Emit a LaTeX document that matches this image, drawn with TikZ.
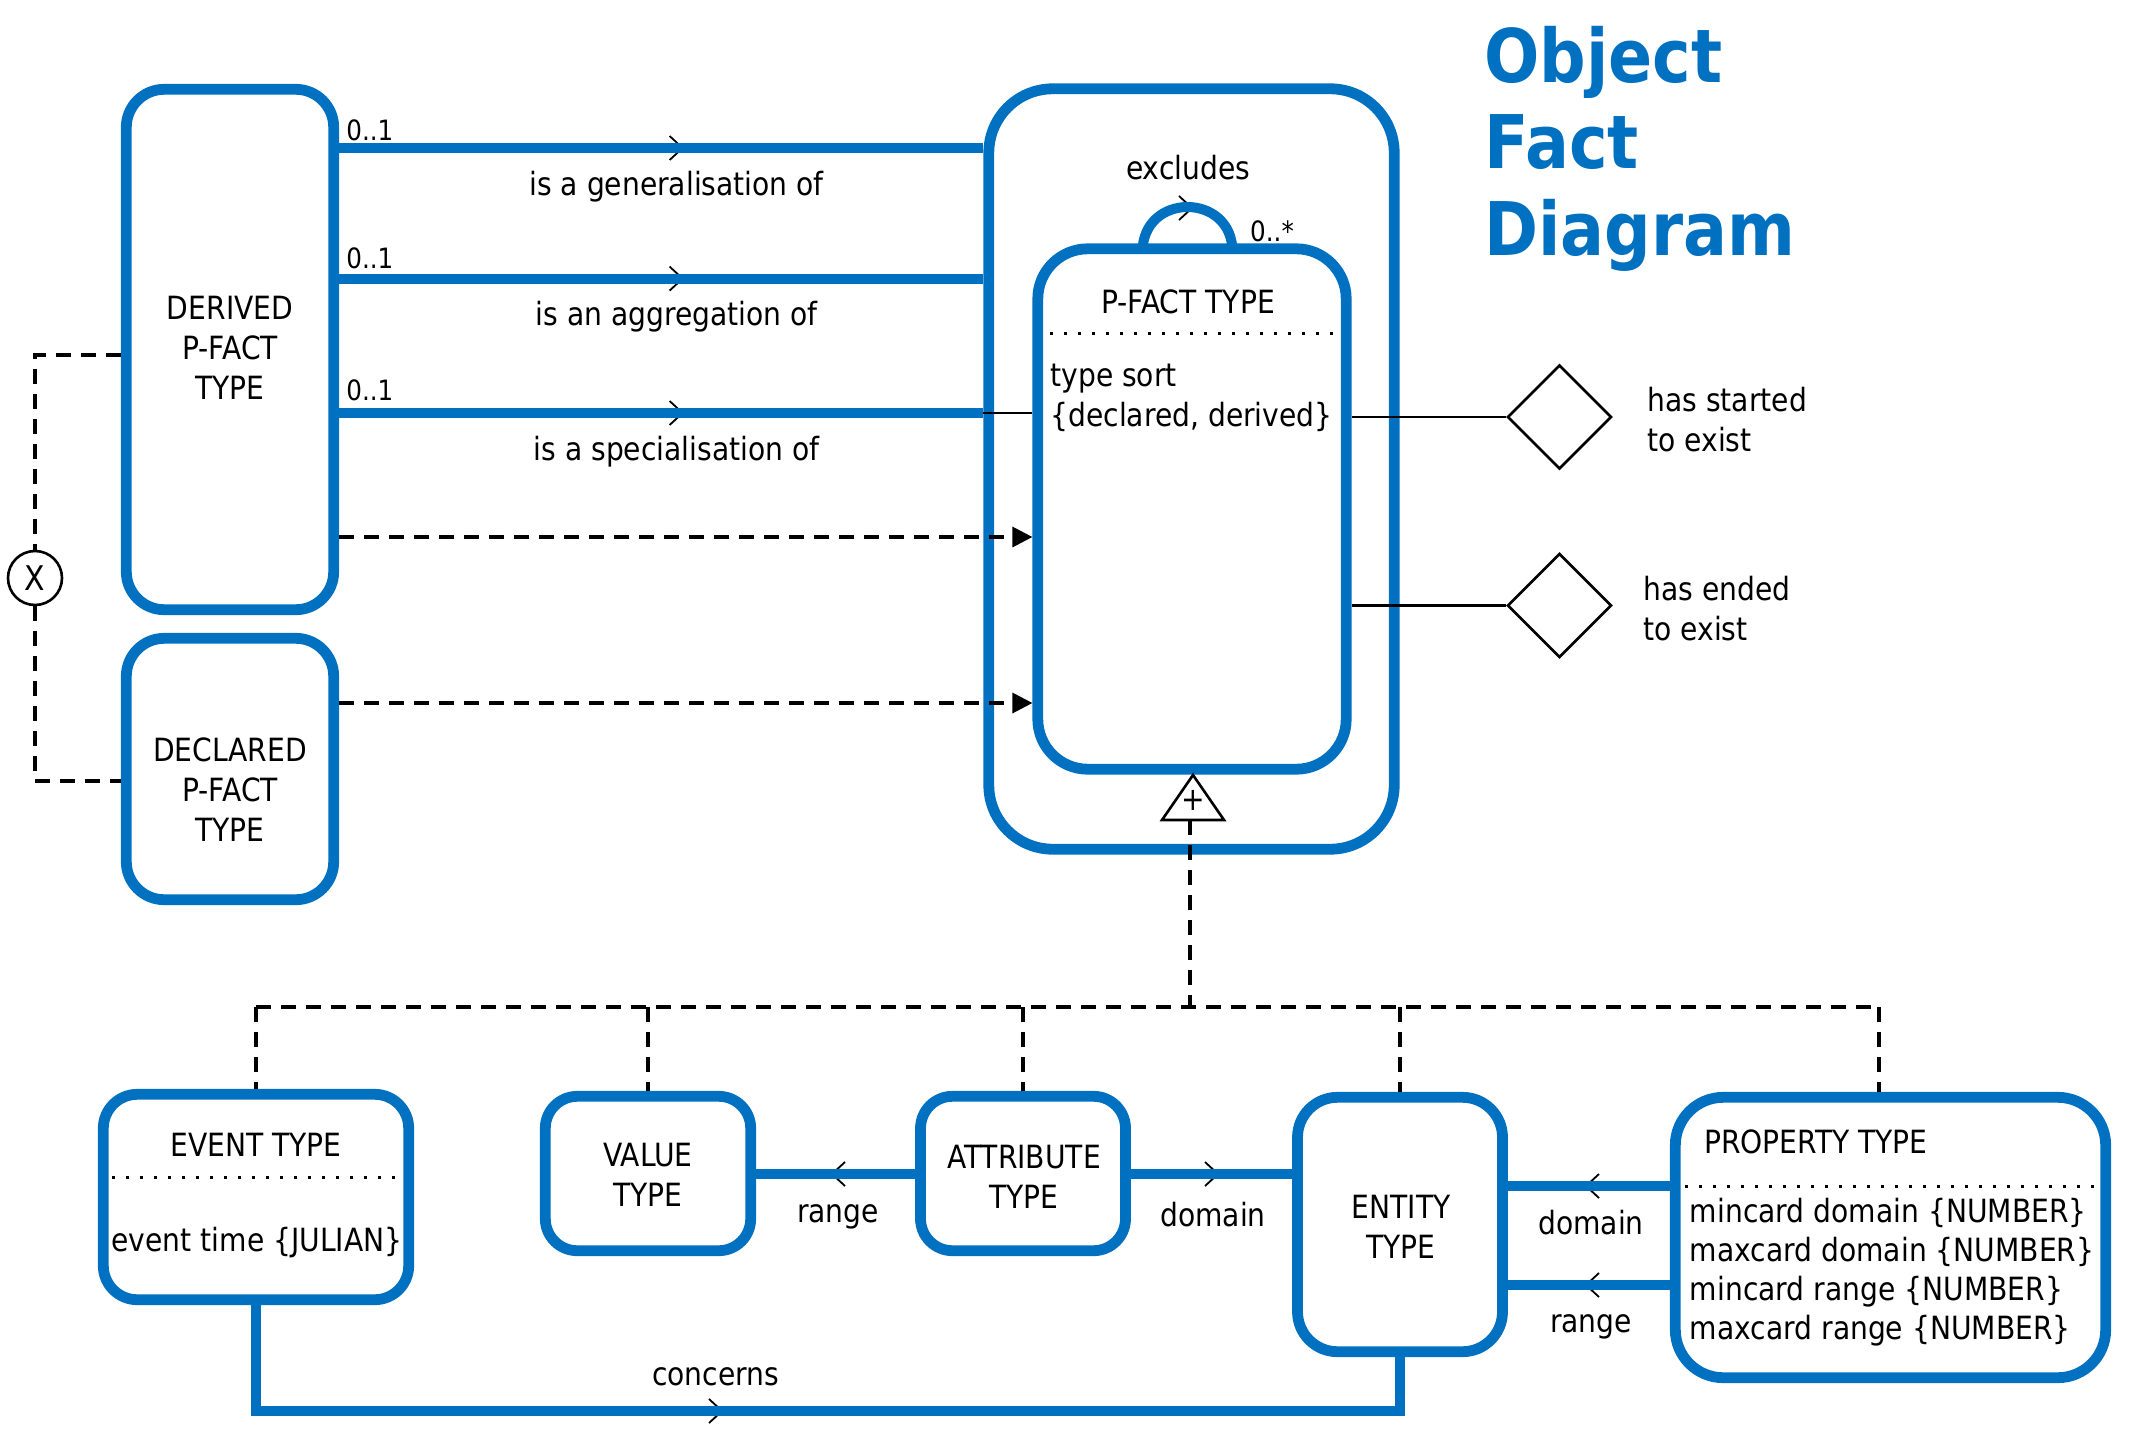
\documentclass[tikz,border=0pt]{standalone}
\usepackage{fontspec}
\setmainfont{DejaVu Sans}[FakeStretch=0.88]
\newfontfamily\titlefont{DejaVu Sans}[FakeStretch=0.88]
\usetikzlibrary{arrows.meta,shapes.geometric}
\definecolor{ofdblue}{RGB}{0,112,192}
\tikzset{
  chev/.pic={\draw[line width=0.9pt,black] (-7,-12) -- (6,0) -- (-7,12);}
}
\begin{document}
\begin{tikzpicture}[x=0.5pt,y=-0.5pt,
  every node/.style={font=\fontsize{16}{20}\selectfont},
  box/.style={draw=ofdblue,line width=5.4pt,inner sep=0pt},
  conn/.style={draw=ofdblue,line width=5pt},
  thinl/.style={draw=black,line width=1.3pt},
  dashline/.style={draw=black,line width=1.6pt,dash pattern=on 7.5pt off 5pt},
  dotline/.style={draw=black,line width=1.5pt,dash pattern=on 1.5pt off 5.5pt},
  txt/.style={inner sep=0pt},
  small/.style={font=\fontsize{14}{16}\selectfont},
  titlef/.style={inner sep=0pt,text=ofdblue,font=\titlefont\bfseries\fontsize{37}{43}\selectfont},
  darrow/.style={dashline,-{Triangle[length=10pt,width=10pt]}}
]
\useasboundingbox (0,0) rectangle (2152,1456);

% ---------- chevrons (drawn first, lines cover their middle) ----------
\pic at (676.6,148) {chev};
\pic at (676.6,278.6) {chev};
\pic at (676.6,413) {chev};
\pic at (1186,208) {chev};
\pic[rotate=180] at (838,1174) {chev};
\pic at (1212,1174) {chev};
\pic[rotate=180] at (1592,1186) {chev};
\pic[rotate=180] at (1592,1285) {chev};
\pic at (716,1411) {chev};

% ---------- boxes ----------
\node[box,rounded corners=19pt,minimum width=103.7pt,minimum height=260.2pt] (derived) at (230,349.5) {};
\node[box,rounded corners=19pt,minimum width=103.7pt,minimum height=130.7pt] (declared) at (230,769) {};
\node[box,rounded corners=32pt,minimum width=202.7pt,minimum height=380.2pt] (outer) at (1191.5,469) {};
\node[box,rounded corners=25pt,minimum width=154.2pt,minimum height=260.2pt] (pfact) at (1192,509) {};
\node[box,rounded corners=17pt,minimum width=152.7pt,minimum height=102.7pt] (event) at (256,1197) {};
\node[box,rounded corners=16pt,minimum width=102.7pt,minimum height=77.2pt] (value) at (648,1173.5) {};
\node[box,rounded corners=16pt,minimum width=102.5pt,minimum height=77.2pt] (attr) at (1023,1173.5) {};
\node[box,rounded corners=20pt,minimum width=102.5pt,minimum height=127.2pt] (entity) at (1400,1224.5) {};
\node[box,rounded corners=24pt,minimum width=215.2pt,minimum height=140.2pt] (prop) at (1890.5,1237.5) {};

% ---------- box texts ----------
\node[align=center] (derivedtxt) at (230,348) {DERIVED\\P-FACT\\TYPE};
\node[align=center] (declaredtxt) at (230,790) {DECLARED\\P-FACT\\TYPE};
\node (pfacttitle) at (1188,302) {P-FACT TYPE};
\draw[dotline] (1050,333.5) -- (1334,333.5);
\node[txt,anchor=west,align=left] (pfactattr) at (1050,397.5) {type sort\\\{declared, derived\}};
\node (eventtitle) at (256,1145) {EVENT TYPE};
\draw[dotline] (112,1177) -- (396,1177);
\node (eventattr) at (257,1243) {event time \{JULIAN\}};
\node[align=center] (valuetxt) at (648,1175) {VALUE\\TYPE};
\node[align=center] (attrtxt) at (1024,1177) {ATTRIBUTE\\TYPE};
\node[align=center] (entitytxt) at (1401,1227) {ENTITY\\TYPE};
\node[txt,anchor=west] (proptitle) at (1703.6,1142) {PROPERTY TYPE};
\draw[dotline] (1685,1186) -- (2096,1186);
\node[txt,anchor=west,align=left,font=\fontsize{16}{19.5}\selectfont] (propattr) at (1689.5,1272)
  {mincard domain \{NUMBER\}\\maxcard domain \{NUMBER\}\\mincard range \{NUMBER\}\\maxcard range \{NUMBER\}};

% ---------- title ----------
\node[titlef,anchor=base west] (title1) at (1484,82) {Object};
\node[titlef,anchor=base west] (title2) at (1484,168) {Fact};
\node[titlef,anchor=base west] (title3) at (1484,255) {Diagram};

% ---------- top relations ----------
\coordinate (y1) at (0,148);
\coordinate (y2) at (0,278.6);
\coordinate (y3) at (0,413);
\draw[conn] (derived.east |- y1) -- (outer.west |- y1);
\draw[conn] (derived.east |- y2) -- (outer.west |- y2);
\draw[conn] (derived.east |- y3) -- (outer.west |- y3);
\draw[thinl] (outer.west |- y3) -- (pfact.west |- y3);
\node[small,txt,anchor=west] (m1) at (346,130) {0..1};
\node[small,txt,anchor=west] (m2) at (346,258) {0..1};
\node[small,txt,anchor=west] (m3) at (346,390) {0..1};
\node (lgen) at (676.6,186.6) {is a generalisation of};
\node (lagg) at (676.6,316.7) {is an aggregation of};
\node (lspec) at (676.6,451.7) {is a specialisation of};

% ---------- exclusion loop ----------
\coordinate (loopA) at (1142.5,252);
\coordinate (loopB) at (1232.5,252);
\draw[conn] (loopA) .. controls (1142.5,192) and (1232.5,192) .. (loopB);
\node (excl) at (1188,168) {excludes};
\node[small] (mstar) at (1272,231) {0..*};

% ---------- derived / declared are p-fact types ----------
\coordinate (ya) at (0,537);
\coordinate (yb) at (0,703);
\draw[darrow] (derived.east |- ya) -- (pfact.west |- ya);
\draw[darrow] (declared.east |- yb) -- (pfact.west |- yb);

% ---------- exclusive or ----------
\node[circle,draw,line width=1.3pt,minimum size=27pt,inner sep=0pt,font=\fontsize{17}{20}\selectfont] (xor) at (35,578) {X};
\coordinate (dl1) at (0,355);
\coordinate (dl2) at (0,781);
\draw[dashline] (derived.west |- dl1) -| (xor.north);
\draw[dashline] (xor.south) |- (declared.west |- dl2);

% ---------- existence diamonds ----------
\node[diamond,aspect=1,draw,line width=1.3pt,minimum width=52pt,minimum height=52pt,inner sep=0pt] (dstart) at (1559.5,417) {};
\node[diamond,aspect=1,draw,line width=1.3pt,minimum width=52pt,minimum height=52pt,inner sep=0pt] (dend) at (1559.5,605.5) {};
\draw[thinl] (pfact.east |- dstart) -- (dstart.west);
\draw[thinl] (pfact.east |- dend) -- (dend.west);
\node[txt,anchor=west,align=left] (lstart) at (1647,420) {has started\\to exist};
\node[txt,anchor=west,align=left] (lend) at (1643,609) {has ended\\to exist};

% ---------- generalisation ----------
\coordinate (triA) at (1193,775);
\coordinate (triB) at (1224,820);
\coordinate (triC) at (1162,820);
\draw[thinl,fill=white] (triA) -- (triB) -- (triC) -- cycle;
\node[inner sep=0pt] (gen) at (1193,800) {+};
\coordinate (triM) at (1190,820);
\coordinate (bus) at (0,1007);
\coordinate (pbus) at (1879,1007);
\draw[dashline] (triM) -- (triM |- bus);
\draw[dashline] (event.north |- bus) -- (pbus);
\draw[dashline] (event.north |- bus) -- (event.north);
\draw[dashline] (value.north |- bus) -- (value.north);
\draw[dashline] (attr.north |- bus) -- (attr.north);
\draw[dashline] (entity.north |- bus) -- (entity.north);
\draw[dashline] (pbus) -- (pbus |- prop.north);

% ---------- lower relations ----------
\draw[conn] (value.east) -- (attr.west);
\node (lrange1) at (838,1217) {range};
\draw[conn] (attr.east) -- (attr.east -| entity.west);
\node (ldom1) at (1213,1215) {domain};
\coordinate (e1) at (0,1186);
\coordinate (e2) at (0,1285);
\draw[conn] (entity.east |- e1) -- (prop.west |- e1);
\draw[conn] (entity.east |- e2) -- (prop.west |- e2);
\node (ldom2) at (1591,1223) {domain};
\node (lrange2) at (1591,1327) {range};
\coordinate (cb) at (0,1411);
\draw[conn] (event.south) -- (event.south |- cb) -| (entity.south);
\node (lconc) at (715.5,1377) {concerns};
\end{tikzpicture}
\end{document}
